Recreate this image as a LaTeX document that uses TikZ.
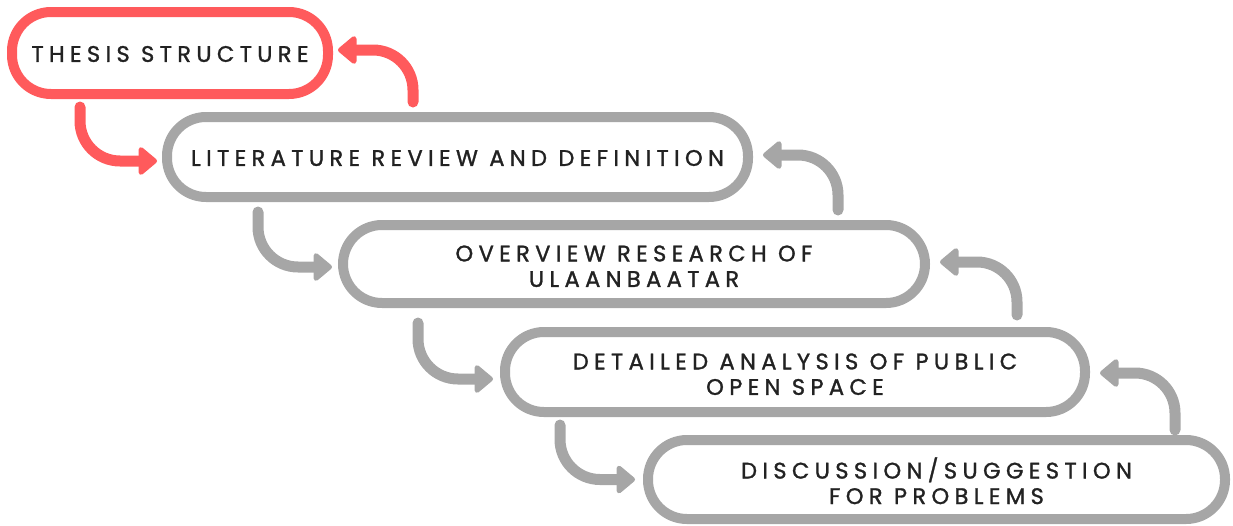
\documentclass[tikz,border=0pt]{standalone}
\usepackage{fontspec}
\setmainfont{Poppins}
\newfontfamily\boxfont[LetterSpace=24,FakeBold=1.3]{Poppins}
\usetikzlibrary{arrows.meta,calc}
\definecolor{coral}{RGB}{255,90,92}
\definecolor{midgray}{RGB}{166,166,166}
\definecolor{ink}{RGB}{34,34,34}
\newcommand{\twolines}[2]{\raisebox{-5pt}[\height][\depth]{\begin{tabular}{@{}c@{}}#1\\#2\end{tabular}}}
\newcommand{\oneline}[1]{\raisebox{-1pt}[\height][\depth]{#1}}
\tikzset{
  pill/.style={draw=midgray, line width=10pt, rounded corners=39pt, fill=white,
    text=ink, align=center, inner sep=0pt,
    font=\boxfont\fontsize{22.5}{25.5}\selectfont},
  redpill/.style={pill, draw=coral},
  flow/.style={draw=midgray, line width=11pt, line cap=round, rounded corners=40pt,
    -{Triangle[length=20pt,width=32pt,round]}},
  redflow/.style={flow, draw=coral}
}
\begin{document}
\begin{tikzpicture}[x=1pt,y=-1pt]
\useasboundingbox (0,0) rectangle (1233,525);
\node[redpill, minimum width=316pt, minimum height=82pt] (b1) at (170,53) {\oneline{THESIS STRUCTURE}};
\node[pill, minimum width=581pt, minimum height=80pt] (b2) at (457.5,157) {\oneline{LITERATURE REVIEW AND DEFINITION}};
\node[pill, minimum width=582pt, minimum height=78pt] (b3) at (634,264) {\twolines{OVERVIEW RESEARCH OF}{ULAANBAATAR}};
\node[pill, minimum width=580pt, minimum height=80pt] (b4) at (795,372) {\twolines{DETAILED ANALYSIS OF PUBLIC}{OPEN SPACE}};
\node[pill, minimum width=577pt, minimum height=79pt] (b5) at (936.5,479.5) {\twolines{DISCUSSION/SUGGESTION}{FOR PROBLEMS}};
% downward arrows
\draw[redflow] ($(b1.south west)+(73,8)$) |- ($(b2.west)+(-5,4)$);
\draw[flow] ($(b2.south west)+(96,10)$) |- ($(b3.west)+(-6,3)$);
\draw[flow] ($(b3.south west)+(80,15)$) |- ($(b4.west)+(-7,7)$);
\draw[flow] ($(b4.south west)+(60,8)$) |- ($(b5.west)+(-8,0)$);
% upward arrows
\draw[redflow] ($(b2.north west)+(251,-10)$) |- ($(b1.east)+(5,-3)$);
\draw[flow] ($(b3.north east)+(-92,-10)$) |- ($(b2.east)+(10,-2)$);
\draw[flow] ($(b4.north east)+(-73,-12)$) |- ($(b3.east)+(10,-2)$);
\draw[flow] ($(b5.north east)+(-55,-5)$) |- ($(b4.east)+(10,1)$);
\end{tikzpicture}
\end{document}
